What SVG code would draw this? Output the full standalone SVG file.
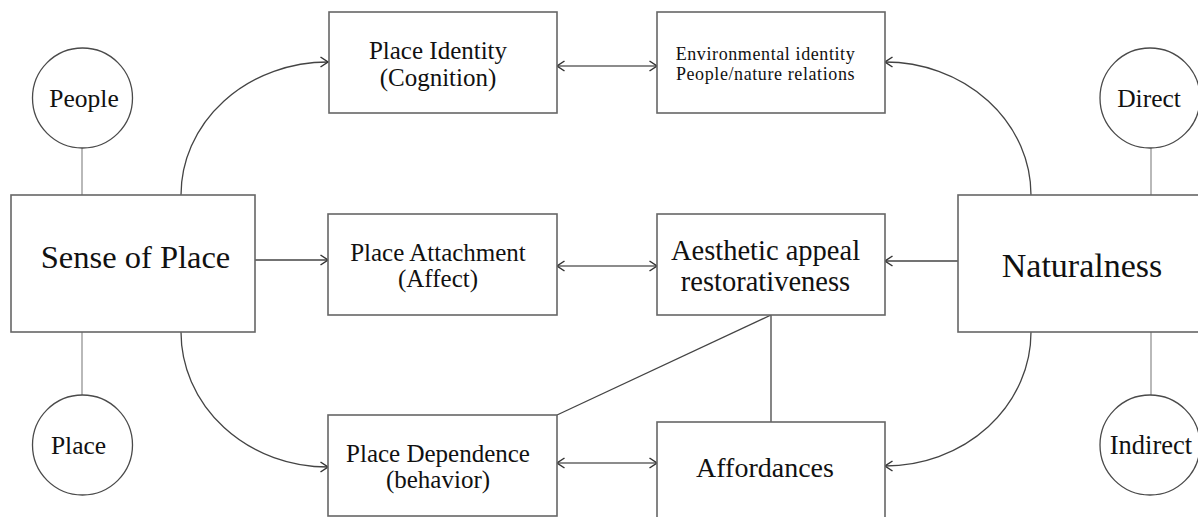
<svg xmlns="http://www.w3.org/2000/svg" width="1198" height="517" viewBox="0 0 1198 517">
<defs>
<style>
.box{fill:#fff;stroke:#666;stroke-width:1.6}
.circ{fill:#fff;stroke:#4a4a4a;stroke-width:1.3}
.t{font-family:"Liberation Serif","Times New Roman",serif;fill:#111;text-anchor:middle}
.link{fill:none;stroke:#8a8a8a;stroke-width:1.2}
.arr{fill:none;stroke:#444;stroke-width:1.3}
.dbl{fill:none;stroke:#666;stroke-width:1.5}
.plain{fill:none;stroke:#444;stroke-width:1.3}
</style>
<marker id="ah" viewBox="0 0 10 12" refX="9" refY="6" markerWidth="10" markerHeight="12" markerUnits="userSpaceOnUse" orient="auto-start-reverse">
<path d="M1.5,1 L9,6 L1.5,11" fill="none" stroke="#333" stroke-width="1.5"/>
</marker>
</defs>
<rect width="1198" height="517" fill="#fff"/>
<g id="connectors">
<line class="link" x1="82" y1="148" x2="82" y2="195"/>
<line class="link" x1="82" y1="332" x2="82" y2="395"/>
<line class="link" x1="1151" y1="148" x2="1151" y2="195"/>
<line class="link" x1="1151" y1="332" x2="1151" y2="395"/>
<path class="arr" d="M181,195 A147,133 0 0 1 328,62" marker-end="url(#ah)"/>
<path class="arr" d="M181,332 A147,135 0 0 0 328,467" marker-end="url(#ah)"/>
<path class="arr" d="M1031,195 A146,133 0 0 0 885,62" marker-end="url(#ah)"/>
<path class="arr" d="M1031,332 A146,134 0 0 1 885,466" marker-end="url(#ah)"/>
<line class="arr" x1="255" y1="260" x2="328" y2="260" marker-end="url(#ah)"/>
<line class="arr" x1="958" y1="261" x2="885" y2="261" marker-end="url(#ah)"/>
<line class="dbl" x1="557" y1="66" x2="657" y2="66" marker-start="url(#ah)" marker-end="url(#ah)"/>
<line class="dbl" x1="557" y1="266" x2="657" y2="266" marker-start="url(#ah)" marker-end="url(#ah)"/>
<line class="dbl" x1="557" y1="463" x2="657" y2="463" marker-start="url(#ah)" marker-end="url(#ah)"/>
<line class="plain" x1="771" y1="315" x2="771" y2="422"/>
<line class="plain" x1="771" y1="315" x2="557" y2="415"/>
</g>
<g id="people"><circle class="circ" cx="82.5" cy="98" r="50"/><text class="t" x="84" y="107" font-size="25.5">People</text></g>
<g id="place"><circle class="circ" cx="82.5" cy="445" r="50"/><text class="t" x="78.5" y="454" font-size="25.5">Place</text></g>
<g id="direct"><circle class="circ" cx="1150" cy="98" r="50"/><text class="t" x="1149" y="107" font-size="25.5">Direct</text></g>
<g id="indirect"><circle class="circ" cx="1150" cy="445" r="50"/><text class="t" x="1151" y="454" font-size="26.5">Indirect</text></g>
<g id="sense"><rect class="box" x="11" y="195" width="244" height="137"/><text class="t" x="135.5" y="268" font-size="32.5">Sense of Place</text></g>
<g id="naturalness"><rect class="box" x="958" y="195" width="260" height="137"/><text class="t" x="1082" y="277" font-size="34">Naturalness</text></g>
<g id="identity"><rect class="box" x="329" y="12" width="228" height="101"/><text class="t" font-size="25"><tspan x="438" y="59">Place Identity</tspan><tspan x="438" y="86">(Cognition)</tspan></text></g>
<g id="envidentity"><rect class="box" x="657" y="12" width="228" height="101"/><text class="t" x="765.5" y="59.5" font-size="18" letter-spacing="0.6">Environmental identity</text><text class="t" x="765.5" y="80" font-size="18" letter-spacing="0.6">People/nature relations</text></g>
<g id="attachment"><rect class="box" x="328" y="214" width="229" height="101"/><text class="t" font-size="25"><tspan x="438" y="260.5">Place Attachment</tspan><tspan x="438" y="287">(Affect)</tspan></text></g>
<g id="aesthetic"><rect class="box" x="657" y="214" width="228" height="101"/><text class="t" font-size="28.5"><tspan x="765.5" y="260">Aesthetic appeal</tspan><tspan x="765.5" y="290.5">restorativeness</tspan></text></g>
<g id="dependence"><rect class="box" x="328" y="415" width="229" height="101"/><text class="t" font-size="25"><tspan x="438" y="461.5">Place Dependence</tspan><tspan x="438" y="488">(behavior)</tspan></text></g>
<g id="affordances"><rect class="box" x="657" y="422" width="228" height="110"/><text class="t" x="765" y="477" font-size="28">Affordances</text></g>
</svg>
